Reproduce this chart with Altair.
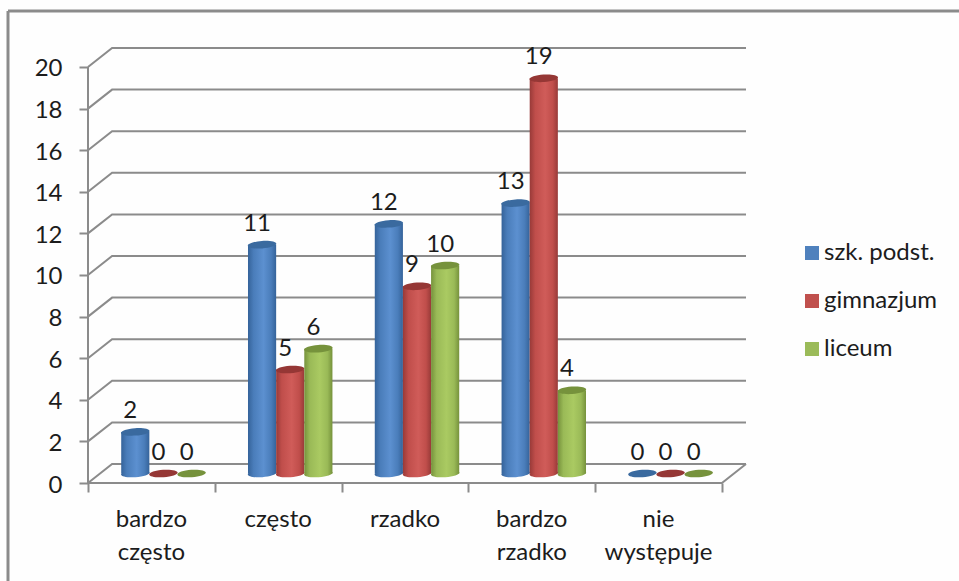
import altair as alt
import pandas as pd

# Survey counts per answer category and school type
categories = ["bardzo\nczęsto", "często", "rzadko", "bardzo\nrzadko", "nie\nwystępuje"]
series_names = ["szk. podst.", "gimnazjum", "liceum"]
primary = [2, 11, 12, 13, 0]
middle = [0, 5, 9, 19, 0]
secondary = [0, 6, 10, 4, 0]
series_values = [primary, middle, secondary]

# Flat legend colours, then edge / centre / cap tones for the cylinders
legend_colors = ["#4F81BD", "#C0504D", "#9BBB59"]
edge_colors = ["#35639A", "#983A38", "#76923C"]
shade_colors = ["#4A7DBA", "#C04E4B", "#9ABA57"]
light_colors = ["#5C90D0", "#D05C59", "#AACA62"]
cap_colors = ["#3A6A9F", "#953735", "#76923C"]

# Oblique projection: how far the back wall sits from the front plane
DEPTH_X = 0.19
DEPTH_Y = 0.913
BAR_WIDTH = 0.222
TICKS = list(range(0, 21, 2))

FONT = "Lato"
FONT_SIZE = 24
TEXT = "#1c1c1c"
GRID = "#8b8b8b"
W, H = 658, 435

x_scale = alt.Scale(domain=[0, 5 + DEPTH_X], nice=False, zero=False)
y_scale = alt.Scale(domain=[0, 20 + DEPTH_Y], nice=False, zero=False)

# The same axis definitions go on every layer so that they merge into one
x_axis = alt.Axis(
    values=list(range(6)), labels=False, domain=False, grid=False,
    title=None, tickSize=9, tickWidth=2, tickColor=GRID,
)
y_axis = alt.Axis(
    values=TICKS, domain=False, grid=False, title=None, tickSize=9,
    tickWidth=2, tickColor=GRID, labelFont=FONT, labelFontSize=FONT_SIZE,
    labelColor=TEXT, labelPadding=17, labelBaseline="middle", labelOffset=2,
)


def X(field="x"):
    return alt.X(field, type="quantitative", scale=x_scale, axis=x_axis)


def Y(field="y"):
    return alt.Y(field, type="quantitative", scale=y_scale, axis=y_axis)


# Wireframe: one open path per gridline level, plus the right floor edge
wire_rows = []
for v in TICKS:
    wire_rows += [
        {"level": v, "order": 0, "x": 0, "y": v},
        {"level": v, "order": 1, "x": DEPTH_X, "y": v + DEPTH_Y},
        {"level": v, "order": 2, "x": 5 + DEPTH_X, "y": v + DEPTH_Y},
    ]
wire_rows += [
    {"level": -1, "order": 0, "x": 0, "y": 0},
    {"level": -1, "order": 1, "x": 5, "y": 0},
    {"level": -1, "order": 2, "x": 5 + DEPTH_X, "y": DEPTH_Y},
    {"level": -2, "order": 0, "x": 0, "y": 0},
    {"level": -2, "order": 1, "x": 0, "y": 20},
]
wire = (
    alt.Chart(pd.DataFrame(wire_rows))
    .mark_line(color=GRID, strokeWidth=2, interpolate="linear", clip=False)
    .encode(x=X(), y=Y(), detail="level:N", order="order:Q")
)

ELLIPSE = "M-1,0.07 A1,0.26,-4,1,1,1,-0.07 A1,0.26,-4,1,1,-1,0.07 Z"
ELLIPSE_SIZE = 28.5 ** 2


def gradient(i):
    return alt.Gradient(
        gradient="linear", x1=0, x2=1, y1=0, y2=0,
        stops=[
            alt.GradientStop(color=edge_colors[i], offset=0),
            alt.GradientStop(color=shade_colors[i], offset=0.2),
            alt.GradientStop(color=light_colors[i], offset=0.55),
            alt.GradientStop(color=shade_colors[i], offset=0.82),
            alt.GradientStop(color=edge_colors[i], offset=1),
        ],
    )


def cylinder(i):
    """Body, rounded foot and darker cap of one series, standing mid-depth."""
    rows = []
    for c, v in enumerate(series_values[i]):
        centre = c + 0.5 + DEPTH_X / 2 + (i - 1) * BAR_WIDTH
        rows.append({
            "x": centre, "x0": centre - BAR_WIDTH / 2, "x1": centre + BAR_WIDTH / 2,
            "base": DEPTH_Y / 2, "top": v + DEPTH_Y / 2, "value": v,
        })
    df = pd.DataFrame(rows)
    raised = df[df["value"] > 0]
    foot = (
        alt.Chart(raised)
        .mark_point(shape=ELLIPSE, size=ELLIPSE_SIZE, filled=True, opacity=1,
                    fill=gradient(i), strokeWidth=0)
        .encode(x=X(), y=Y("base"))
    )
    body = (
        alt.Chart(raised)
        .mark_rect(fill=gradient(i), strokeWidth=0)
        .encode(x=X("x0"), x2="x1", y=Y("base"), y2="top")
    )
    cap = (
        alt.Chart(df)
        .mark_point(shape=ELLIPSE, size=ELLIPSE_SIZE, filled=True, opacity=1,
                    fill=cap_colors[i], strokeWidth=0)
        .encode(x=X(), y=Y("top"))
    )
    return foot + body + cap


# Value labels above each cylinder
value_rows = []
for i, values in enumerate(series_values):
    for c, v in enumerate(values):
        value_rows.append({
            "x": c + 0.5 + DEPTH_X / 2 + (i - 1) * BAR_WIDTH,
            "y": v + DEPTH_Y / 2,
            "value": v,
        })
value_labels = (
    alt.Chart(pd.DataFrame(value_rows))
    .mark_text(font=FONT, fontSize=FONT_SIZE, color=TEXT, dx=-5, dy=-21, baseline="middle")
    .encode(x=X(), y=Y(), text="value:Q")
)

# Category captions under the floor
category_labels = (
    alt.Chart(pd.DataFrame({"x": [c + 0.5 for c in range(5)], "label": categories}))
    .mark_text(font=FONT, fontSize=FONT_SIZE, color=TEXT, baseline="top", lineBreak="\n",
               lineHeight=33, align="center")
    .encode(x=X(), y=alt.value(H + 25), text="label:N")
)

# Hidden layer that carries the colour legend
legend_layer = (
    alt.Chart(pd.DataFrame({"series": series_names, "x": [0] * 3, "y": [0] * 3}))
    .mark_square(size=196, opacity=0)
    .encode(
        x=X(),
        y=Y(),
        color=alt.Color(
            "series:N",
            scale=alt.Scale(domain=series_names, range=legend_colors),
            sort=series_names,
            legend=alt.Legend(
                title=None, orient="none", legendX=712, legendY=193,
                symbolType="square", symbolSize=196, symbolOpacity=1,
                symbolStrokeWidth=0, labelFont=FONT, labelFontSize=FONT_SIZE,
                labelColor=TEXT, rowPadding=24, labelOffset=0,
            ),
        ),
    )
)

# Outer frame: only the top and left edges are drawn
frame_top = alt.Chart(pd.DataFrame({"a": [0]})).mark_rule(color=GRID, strokeWidth=3).encode(
    x=alt.value(-80), x2=alt.value(W + 213), y=alt.value(-37)
)
frame_left = alt.Chart(pd.DataFrame({"a": [0]})).mark_rule(color=GRID, strokeWidth=3).encode(
    x=alt.value(-80), y=alt.value(-37), y2=alt.value(H + 98)
)

chart = (
    alt.layer(
        wire, cylinder(0), cylinder(1), cylinder(2),
        value_labels, category_labels, legend_layer, frame_top, frame_left,
    )
    .resolve_scale(x="shared", y="shared")
    .properties(
        width=W,
        height=H,
        padding={"left": 88, "top": 48, "right": 959 - 88 - W, "bottom": 581 - 48 - H},
        autosize=alt.AutoSizeParams(type="none"),
        background="#fefefe",
    )
    .configure_view(stroke=None)
)

chart.save("out.html", embed_options={"renderer": "svg", "actions": False})
